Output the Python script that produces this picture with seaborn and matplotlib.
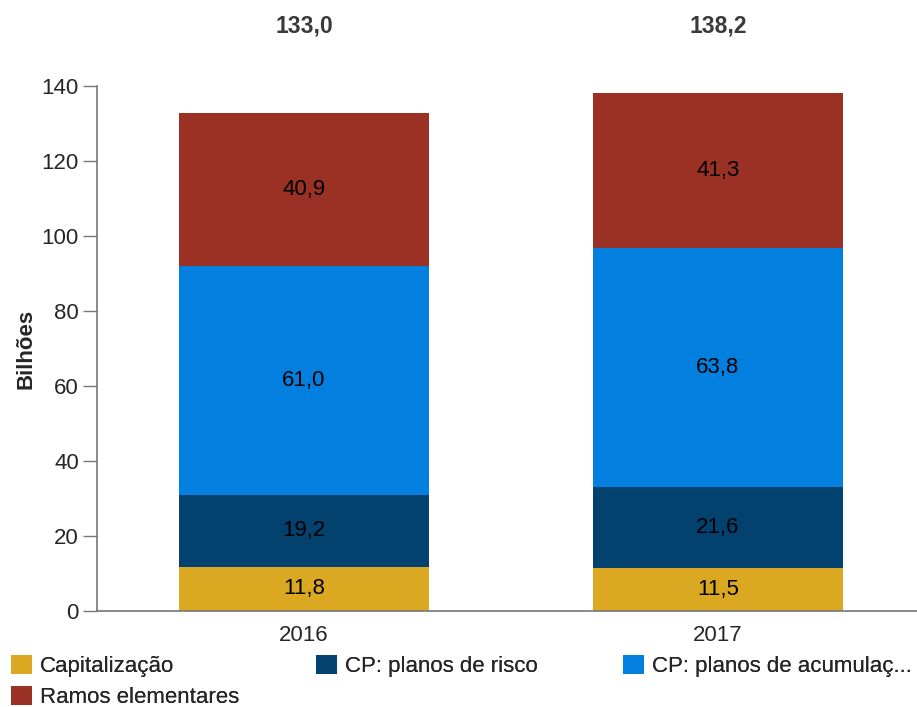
import pandas as pd
import numpy as np
import seaborn as sns
import matplotlib.pyplot as plt
from matplotlib.patches import Patch

sns.set_theme(style="white")
plt.rcParams['font.family'] = ['Liberation Sans', 'DejaVu Sans']

# data
years = ["2016", "2017"]
series = ["Capitalização", "CP: planos de risco", "CP: planos de acumulaç...", "Ramos elementares"]
capitalizacao = [11.8, 11.5]
planos_risco = [19.2, 21.6]
planos_acumulacao = [61.0, 63.8]
ramos_elementares = [40.9, 41.3]
totals = [133.0, 138.2]
colors = ["#DBA821", "#03416E", "#0380DF", "#9B3024"]

values = [capitalizacao, planos_risco, planos_acumulacao, ramos_elementares]

fig = plt.figure(figsize=(9.17, 7.07), dpi=100)
ax = fig.add_axes([97 / 917, 96 / 707, 820 / 917, 525 / 707])

bottom = np.zeros(len(years))
for name, vals, col in zip(series, values, colors):
    df = pd.DataFrame({"ano": years, "valor": vals})
    sns.barplot(data=df, x="ano", y="valor", color=col, width=0.604,
                bottom=bottom, saturation=1, ax=ax, linewidth=0)
    for i, v in enumerate(vals):
        ax.text(i, bottom[i] + v / 2, f"{v:.1f}".replace(".", ","),
                ha="center", va="center", fontsize=16, color="black")
    bottom = bottom + np.array(vals)

for i, t in enumerate(totals):
    ax.text(i, 156.0, f"{t:.1f}".replace(".", ","), ha="center", va="center",
            fontsize=16.5, fontweight="bold", color="#3a3a3a", clip_on=False)

ax.set_xlim(-0.5, 1.4807)
ax.set_ylim(0, 140)
ax.set_yticks(range(0, 141, 20))
ax.set_xlabel("")
ax.set_ylabel("Bilhões", fontsize=16, fontweight="bold", labelpad=4)
ax.tick_params(axis="y", left=True, length=10, width=1, color="#777777",
               labelsize=16, pad=3)
ax.tick_params(axis="x", bottom=False, labelsize=16, pad=4)
for s in ["top", "right"]:
    ax.spines[s].set_visible(False)
for s in ["left", "bottom"]:
    ax.spines[s].set_color("#777777")
    ax.spines[s].set_linewidth(1.2)

# legend: three columns placed like the reference
handles = [Patch(facecolor=c, edgecolor="none") for c in colors]
columns = [([0, 3], 11), ([1], 316), ([2], 623)]
for idx, xpix in columns:
    leg = fig.legend([handles[k] for k in idx], [series[k] for k in idx],
                     loc="upper left", bbox_to_anchor=(xpix / 917, 1 - 655 / 707),
                     frameon=False, fontsize=16, handlelength=0.95,
                     handleheight=0.95, handletextpad=0.36, labelspacing=0.38,
                     borderpad=0, borderaxespad=0)
    fig.add_artist(leg)

fig.savefig("out.png", dpi=100)
